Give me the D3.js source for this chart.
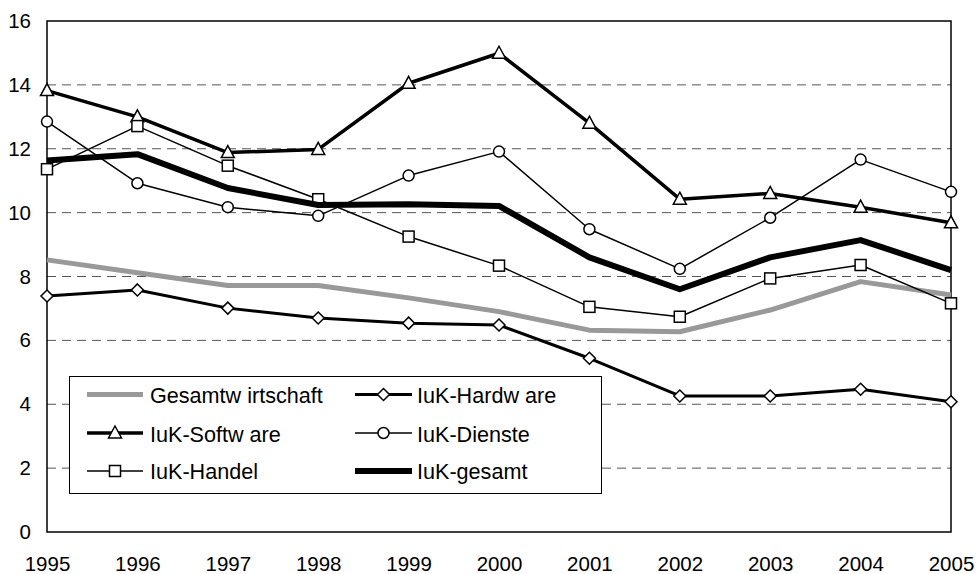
<!DOCTYPE html>
<html><head><meta charset="utf-8">
<script src="https://cdn.jsdelivr.net/npm/d3@7"></script>
<style>body{margin:0;background:#fff}svg{display:block;font-family:"Liberation Sans",Arial,sans-serif}</style>
</head><body><svg id="c" width="978" height="574"></svg>
<script>
const years = [1995,1996,1997,1998,1999,2000,2001,2002,2003,2004,2005];
const yTicks = [0,2,4,6,8,10,12,14,16];
const gesamtwirtschaft = [8.52,8.12,7.72,7.72,7.33,6.9,6.32,6.27,6.95,7.84,7.42];
const hardware = [7.39,7.58,7.01,6.7,6.54,6.48,5.44,4.26,4.26,4.47,4.08];
const software = [13.82,13.0,11.88,11.98,14.05,14.99,12.8,10.42,10.6,10.17,9.68];
const dienste = [12.85,10.92,10.17,9.9,11.16,11.91,9.48,8.24,9.84,11.66,10.65];
const handel = [11.36,12.71,11.47,10.42,9.25,8.34,7.05,6.74,7.94,8.36,7.16];
const iukGesamt = [11.63,11.83,10.77,10.24,10.26,10.21,8.6,7.6,8.6,9.14,8.2];
const seriesNames = ["Gesamtw irtschaft","IuK-Hardw are","IuK-Softw are","IuK-Dienste","IuK-Handel","IuK-gesamt"];

const styles = [
  {color:"#999", w:5, marker:null},
  {color:"#000", w:3, marker:"diamond"},
  {color:"#000", w:3.5, marker:"triangle"},
  {color:"#000", w:1.5, marker:"circle"},
  {color:"#000", w:1.5, marker:"square"},
  {color:"#000", w:6, marker:null}
];
const data = [gesamtwirtschaft,hardware,software,dienste,handel,iukGesamt];

const svg = d3.select("#c");
const L=47,R=951,T=21,B=532;
const x = d3.scaleLinear().domain([1995,2005]).range([L,R]);
const y = d3.scaleLinear().domain([0,16]).range([B,T]);

// gridlines
svg.append("g").selectAll("line").data(yTicks.filter(d=>d>0&&d<16)).join("line")
  .attr("x1",L).attr("x2",R).attr("y1",d=>y(d)).attr("y2",d=>y(d))
  .attr("stroke","#555").attr("stroke-width",1).attr("stroke-dasharray","9,6");

// border
svg.append("rect").attr("x",L).attr("y",T).attr("width",R-L).attr("height",B-T)
  .attr("fill","none").attr("stroke","#000").attr("stroke-width",1.5);

// y axis labels
const ya = svg.append("g").attr("transform",`translate(${L},0)`)
  .call(d3.axisLeft(y).tickValues(yTicks).tickSize(0).tickPadding(16).tickFormat(d3.format("d")));
ya.select(".domain").remove();
ya.selectAll("text").attr("font-size",20.5).attr("font-family","Liberation Sans, Arial, sans-serif").attr("fill","#000");

// x axis labels
const xa = svg.append("g").attr("transform",`translate(0,${B})`)
  .call(d3.axisBottom(x).tickValues(years).tickSize(0).tickPadding(24).tickFormat(d3.format("d")));
xa.select(".domain").remove();
xa.selectAll("text").attr("font-size",20.5).attr("font-family","Liberation Sans, Arial, sans-serif").attr("fill","#000");

const line = d3.line().x((d,i)=>x(years[i])).y(d=>y(d));

function marker(g, type, cx, cy){
  const common = s=>s.attr("fill","#fff").attr("stroke","#000").attr("stroke-width",1.5);
  if(type==="diamond") common(g.append("path").attr("d",`M${cx},${cy-6}L${cx+6},${cy}L${cx},${cy+6}L${cx-6},${cy}Z`));
  else if(type==="triangle") common(g.append("path").attr("d",`M${cx},${cy-7}L${cx+6.5},${cy+5}L${cx-6.5},${cy+5}Z`));
  else if(type==="circle") common(g.append("circle").attr("cx",cx).attr("cy",cy).attr("r",5.5));
  else if(type==="square") common(g.append("rect").attr("x",cx-5.5).attr("y",cy-5.5).attr("width",11).attr("height",11));
}

data.forEach((vals,k)=>{
  const st = styles[k];
  const g = svg.append("g");
  g.append("path").datum(vals).attr("d",line).attr("fill","none")
    .attr("stroke",st.color).attr("stroke-width",st.w).attr("stroke-linejoin","round");
  if(st.marker) vals.forEach((v,i)=>marker(g,st.marker,x(years[i]),y(v)));
});

// legend
const lg = svg.append("g");
lg.append("rect").attr("x",69.5).attr("y",376.5).attr("width",532).attr("height",117)
  .attr("fill","#fff").attr("stroke","#000").attr("stroke-width",1);
const rows=[394.5,433,471], baselines=[403,441.5,478.5], cols=[[87,143,150],[355,412,417]];
seriesNames.forEach((n,k)=>{
  const ri=Math.floor(k/2), r=rows[ri], c=cols[k%2], st=styles[k];
  const g=lg.append("g");
  g.append("line").attr("x1",c[0]).attr("x2",c[1]).attr("y1",r).attr("y2",r)
    .attr("stroke",st.color).attr("stroke-width",st.w);
  if(st.marker) marker(g,st.marker,(c[0]+c[1])/2,r);
  g.append("text").attr("x",c[2]).attr("y",baselines[ri])
    .attr("font-size",21.6).attr("fill","#000").text(n);
});
</script></body></html>
